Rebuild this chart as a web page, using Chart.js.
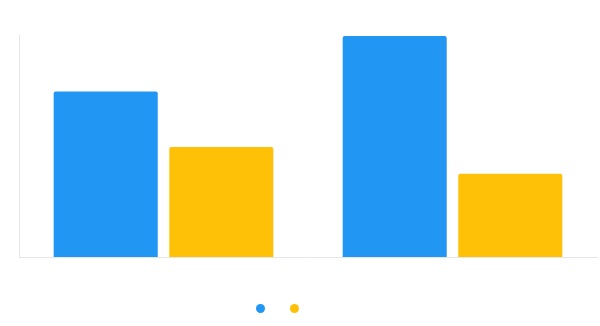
<!DOCTYPE html>
<html>
<head>
<meta charset="utf-8">
<script src="https://cdn.jsdelivr.net/npm/chart.js@4"></script>
<style>
  html, body { margin: 0; padding: 0; background: #ffffff; }
  #wrap { position: relative; width: 600px; height: 326px; }
  #chart { position: absolute; left: 0; top: 0; }
  #legend { position: absolute; left: 256px; top: 304px; display: flex; gap: 24.5px; }
  #legend span { display: block; width: 9px; height: 9px; border-radius: 50%; }
</style>
</head>
<body>
<div id="wrap">
  <canvas id="chart" width="600" height="326"></canvas>
  <div id="legend"></div>
</div>
<script>
const categories = ['', ''];
const seriesNames = ['', ''];
const seriesA = [14.9, 19.9];
const seriesB = [9.9, 7.5];
const yMin = 0;
const yMax = 20;

const colors = ['#2196F3', '#FFC107'];

const chart = new Chart(document.getElementById('chart'), {
  type: 'bar',
  data: {
    labels: categories,
    datasets: [
      { label: seriesNames[0], data: seriesA, backgroundColor: colors[0], borderRadius: 2, borderSkipped: 'bottom' },
      { label: seriesNames[1], data: seriesB, backgroundColor: colors[1], borderRadius: 2, borderSkipped: 'bottom' }
    ]
  },
  options: {
    responsive: false,
    animation: false,
    layout: { padding: { left: 19, right: 3, top: 35, bottom: 69 } },
    plugins: {
      legend: { display: false },
      tooltip: { enabled: false }
    },
    scales: {
      x: {
        grid: { display: false, drawTicks: false },
        ticks: { display: false },
        border: { display: true, color: '#e6e6e6', width: 1 }
      },
      y: {
        min: yMin,
        max: yMax,
        grid: { display: false, drawTicks: false },
        ticks: { display: false },
        border: { display: true, color: '#e6e6e6', width: 1 }
      }
    }
  }
});

const legendEl = document.getElementById('legend');
chart.data.datasets.forEach(ds => {
  const s = document.createElement('span');
  s.style.background = ds.backgroundColor;
  legendEl.appendChild(s);
});
</script>
</body>
</html>
